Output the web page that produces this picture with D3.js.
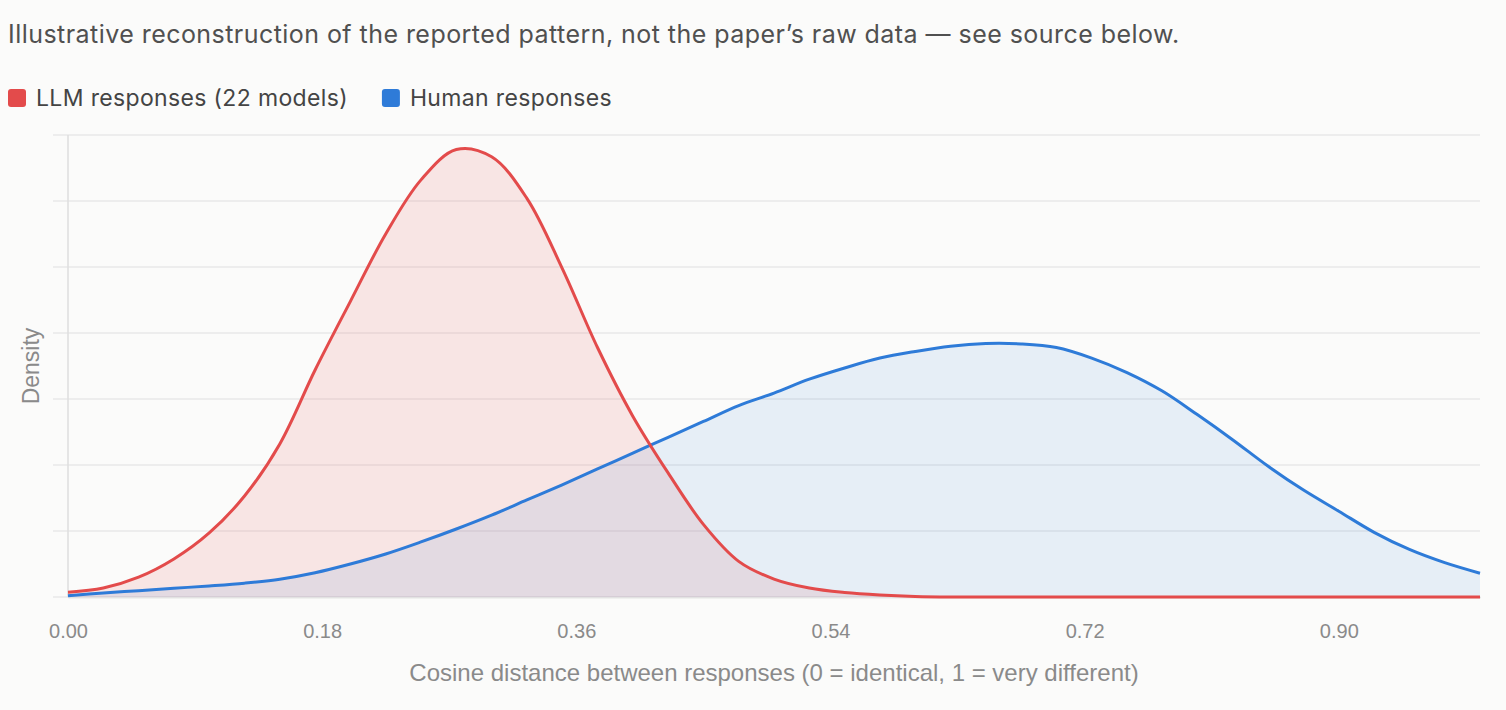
<!DOCTYPE html>
<html>
<head>
<meta charset="utf-8">
<script src="https://cdn.jsdelivr.net/npm/d3@7"></script>
<style>
  body { margin: 0; background: #fbfbfa; }
  svg { display: block; }
  .grid line { stroke: #e8e8e8; stroke-width: 1.5; }
  .x.axis text { fill: #8a8a8a; font-family: "Liberation Sans", Arial, sans-serif; font-size: 20px; }
</style>
</head>
<body>
<svg id="chart" width="1506" height="710"></svg>
<script>
// cosine distance grid (x) and density estimates
const distances = [0.000, 0.025, 0.050, 0.075, 0.100, 0.125, 0.150, 0.175, 0.200, 0.225,
                   0.250, 0.275, 0.300, 0.325, 0.350, 0.375, 0.400, 0.425, 0.450, 0.475,
                   0.500, 0.525, 0.550, 0.575, 0.600, 0.625, 0.650, 0.675, 0.700, 0.725,
                   0.750, 0.775, 0.800, 0.825, 0.850, 0.875, 0.900, 0.925, 0.950, 0.975, 1.000];
const llmDensity = [0.036, 0.068, 0.150, 0.288, 0.485, 0.765, 1.160, 1.720, 2.240, 2.750,
                    3.160, 3.390, 3.335, 3.020, 2.490, 1.890, 1.370, 0.940, 0.550, 0.270,
                    0.136, 0.068, 0.034, 0.015, 0.004, 0.000, 0.000, 0.000, 0.000, 0.000,
                    0.000, 0.000, 0.000, 0.000, 0.000, 0.000, 0.000, 0.000, 0.000, 0.000, 0.000];
const humanDensity = [0.010, 0.030, 0.048, 0.066, 0.084, 0.105, 0.135, 0.184, 0.250, 0.326,
                      0.417, 0.515, 0.620, 0.735, 0.850, 0.970, 1.090, 1.210, 1.330, 1.450,
                      1.545, 1.650, 1.735, 1.810, 1.860, 1.900, 1.920, 1.917, 1.890, 1.810,
                      1.700, 1.560, 1.380, 1.190, 0.990, 0.810, 0.650, 0.490, 0.360, 0.260, 0.180];
const xTicks = [0, 0.18, 0.36, 0.54, 0.72, 0.90];
const yGrid = [0, 0.5, 1, 1.5, 2, 2.5, 3, 3.5];
const seriesNames = ["LLM responses (22 models)", "Human responses"];
const seriesColors = ["#e34b4b", "#2e7bd8"];
const fillOpacity = [0.12, 0.1];

const drawChart = (svg_name) => {
	let chart = d3.select(svg_name);
	let margin = {left: 68, right: 26, top: 135, bottom: 113};
	let width = +chart.attr("width");
	let height = +chart.attr("height");

	let x = d3.scaleLinear()
						.domain([0, 1])
						.range([margin.left, width - margin.right]);
	let y = d3.scaleLinear()
						.domain([0, 3.5])
						.range([height - margin.bottom, margin.top]);

	addHeader(chart);
	addGrid(chart, x, y, margin);

	let series = [
		{color: seriesColors[0], opacity: fillOpacity[0], values: llmDensity},
		{color: seriesColors[1], opacity: fillOpacity[1], values: humanDensity}
	];
	// areas first, then lines, red on top
	series.forEach((s) => addArea(chart, s, x, y));
	series.slice().reverse().forEach((s) => addLine(chart, s, x, y));

	addXAxis(chart, x, height, margin);
	addLabels(chart, x, y);
}

const addHeader = (chart) => {
	chart.append("text")
				.attr("x", 8)
				.attr("y", 43)
				.style("font-family", "Inter, 'Noto Sans', sans-serif")
				.style("font-size", "25px")
				.style("letter-spacing", "0.45px")
				.style("fill", "#505050")
				.text("Illustrative reconstruction of the reported pattern, not the paper\u2019s raw data \u2014 see source below.");

	let legend = chart.append("g").attr("transform", "translate(8,89)");
	let offset = 0;
	seriesNames.forEach((name, i) => {
		let item = legend.append("g").attr("transform", `translate(${offset},0)`);
		item.append("rect")
					.attr("width", 18)
					.attr("height", 18)
					.attr("rx", 3)
					.style("fill", seriesColors[i]);
		let label = item.append("text")
					.attr("x", 28)
					.attr("y", 17)
					.style("font-family", "Inter, 'Noto Sans', sans-serif")
					.style("font-size", "23px")
					.style("letter-spacing", "0.35px")
					.style("fill", "#444")
					.text(name);
		offset += 28 + label.node().getComputedTextLength() + 34;
	});
}

const addGrid = (chart, x, y, margin) => {
	let grid = chart.append("g").attr("class", "grid");
	grid.selectAll("line.h")
			.data(yGrid)
			.enter().append("line")
			.attr("class", "h")
			.attr("x1", margin.left - 15)
			.attr("x2", x.range()[1])
			.attr("y1", (d) => y(d))
			.attr("y2", (d) => y(d));
	grid.append("line")
			.attr("x1", margin.left)
			.attr("x2", margin.left)
			.attr("y1", y(3.5))
			.attr("y2", y(0))
			.style("stroke", "#dedede");
}

const toPoints = (s) => distances.map((d, i) => ({x: d, v: s.values[i]}));

const addArea = (chart, s, x, y) => {
	let area = d3.area()
						.curve(d3.curveCatmullRom.alpha(0.5))
						.x((d) => x(d.x))
						.y0(y(0))
						.y1((d) => y(d.v));
	chart.append("path")
				.datum(toPoints(s))
				.attr("d", area)
				.style("fill", s.color)
				.style("fill-opacity", s.opacity);
}

const addLine = (chart, s, x, y) => {
	let line = d3.line()
						.curve(d3.curveCatmullRom.alpha(0.5))
						.x((d) => x(d.x))
						.y((d) => y(d.v));
	chart.append("path")
				.datum(toPoints(s))
				.attr("d", line)
				.style("fill", "none")
				.style("stroke", s.color)
				.style("stroke-width", 3);
}

const addXAxis = (chart, x, height, margin) => {
	let x_axis = d3.axisBottom(x)
								.tickValues(xTicks)
								.tickFormat(d3.format(".2f"))
								.tickSize(0)
								.tickPadding(27);
	let g = chart.append("g")
				.attr("class", "x axis")
				.attr("transform", `translate(0,${height - margin.bottom})`)
				.lower()
				.call(x_axis);
	g.select(".domain").style("stroke", "#cfcfcf").style("stroke-width", 1.5);
}

const addLabels = (chart, x, y) => {
	chart.append("text")
				.attr("x", (x.range()[0] + x.range()[1]) / 2)
				.attr("y", 681)
				.style("text-anchor", "middle")
				.style("font-family", "'Liberation Sans', Arial, sans-serif")
				.style("font-size", "24px")
				.style("fill", "#8a8a8a")
				.text("Cosine distance between responses (0 = identical, 1 = very different)");
	chart.append("text")
				.attr("transform", "rotate(-90)")
				.attr("x", -(y(0) + y(3.5)) / 2)
				.attr("y", 39)
				.style("text-anchor", "middle")
				.style("font-family", "'Liberation Sans', Arial, sans-serif")
				.style("font-size", "23px")
				.style("fill", "#8a8a8a")
				.text("Density");
}

drawChart("#chart");
</script>
</body>
</html>
